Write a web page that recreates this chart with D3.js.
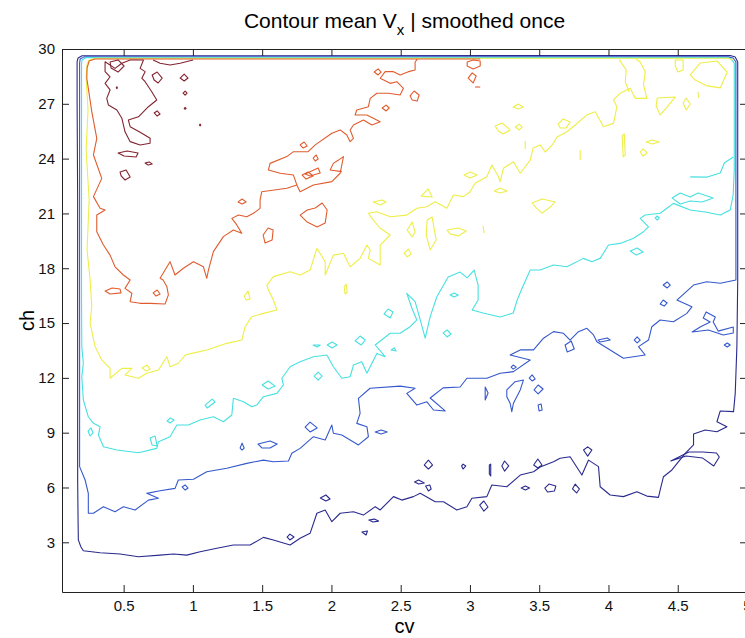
<!DOCTYPE html>
<html>
<head>
<meta charset="utf-8">
<script src="https://cdn.jsdelivr.net/npm/d3@7"></script>
<style>
  body { margin: 0; background: #fff; }
  svg { font-family: "Liberation Sans", Arial, sans-serif; }
  .axis path, .axis line { stroke: #222; }
  .axis text { font-size: 15px; fill: #111; }
</style>
</head>
<body>
<div id="chart"></div>
<script>
// contour levels, low to high (MATLAB jet colours)
const levels = [1, 2, 3, 4, 5, 6];
const xTicks = [0.5, 1, 1.5, 2, 2.5, 3, 3.5, 4, 4.5, 5];
const yTicks = [3, 6, 9, 12, 15, 18, 21, 24, 27, 30];

// ---- level 1 (navy) ----
const navyMain = [[0.2,29.63],[0.171,29.51],[0.164,29.29],[0.164,27.21],[0.168,21.74],[0.168,16.26],[0.168,10.79],[0.168,6.41],[0.171,4.22],[0.173,3.13],[0.191,2.76],[0.209,2.54],[0.33,2.43],[0.474,2.36],[0.607,2.21],[0.763,2.30],[0.859,2.36],[0.956,2.30],[1.052,2.48],[1.173,2.67],[1.292,2.85],[1.413,2.85],[1.509,3.27],[1.581,3.13],[1.702,2.85],[1.774,3.22],[1.846,3.49],[1.895,4.59],[1.955,4.77],[2.003,4.13],[2.063,4.59],[2.159,4.67],[2.231,4.49],[2.316,4.95],[2.352,4.77],[2.448,5.50],[2.508,5.31],[2.592,5.50],[2.641,5.68],[2.749,5.22],[2.809,5.22],[2.905,4.77],[2.978,4.95],[3.014,5.41],[3.122,5.50],[3.158,6.14],[3.266,6.04],[3.363,6.68],[3.459,6.86],[3.507,7.12],[3.603,7.41],[3.651,7.60],[3.723,7.68],[3.808,6.68],[3.856,7.50],[3.928,7.14],[3.940,6.04],[4.012,5.59],[4.108,5.50],[4.205,5.77],[4.277,5.53],[4.361,5.46],[4.373,5.86],[4.397,6.59],[4.458,6.96],[4.554,7.87],[4.614,8.33],[4.614,8.93],[4.698,9.15],[4.783,9.05],[4.855,9.33],[4.783,9.60],[4.807,10.19],[4.903,10.15],[4.915,11.15],[4.927,13.71],[4.933,17.36],[4.933,24.47],[4.933,29.29],[4.915,29.56],[4.879,29.64]];
const navyIslands = [
  [[2.67,7.23],[2.70,7.50],[2.73,7.23],[2.70,7.01]],
  [[2.94,7.18],[2.95,7.28],[2.97,7.18],[2.95,7.01]],
  [[3.14,7.23],[3.15,7.28],[3.15,6.74],[3.15,6.63],[3.14,6.74]],
  [[3.23,7.18],[3.25,7.45],[3.28,7.18],[3.25,6.90]],
  [[3.46,7.23],[3.49,7.56],[3.52,7.23],[3.49,7.07]],
  [[1.92,5.42],[1.96,5.59],[1.99,5.37],[1.96,5.26]],
  [[2.60,6.30],[2.63,6.41],[2.67,6.25],[2.63,6.19]],
  [[2.68,6.08],[2.71,6.14],[2.72,5.92],[2.70,5.81]],
  [[2.27,4.22],[2.31,4.27],[2.34,4.16],[2.30,4.11]],
  [[2.22,3.56],[2.26,3.62],[2.25,3.40]],
  [[3.07,5.04],[3.10,5.26],[3.13,4.93],[3.10,4.71]],
  [[3.37,5.97],[3.40,6.08],[3.43,5.97],[3.40,5.86]],
  [[3.54,5.97],[3.57,6.19],[3.62,6.08],[3.61,5.81],[3.56,5.75]],
  [[3.74,5.92],[3.76,6.19],[3.79,5.92],[3.77,5.70]],
  [[3.82,8.05],[3.85,8.22],[3.88,8.05],[3.85,7.72]],
  [[1.68,3.29],[1.70,3.45],[1.73,3.29],[1.70,3.13]],
  [[4.45,7.45],[4.56,7.72],[4.68,7.61],[4.76,7.18],[4.80,7.67],[4.78,7.89],[4.68,7.94],[4.58,7.94]]
];

// ---- level 2 (blue) ----
const blueMain = [[0.214,29.57],[0.186,29.45],[0.182,29.23],[0.182,21.74],[0.182,13.53],[0.182,7.14],[0.222,6.41],[0.245,5.68],[0.245,4.59],[0.282,4.59],[0.354,4.95],[0.438,4.67],[0.498,4.95],[0.583,4.77],[0.679,5.31],[0.751,5.41],[0.667,5.68],[0.763,5.82],[0.871,5.95],[0.895,6.41],[1.004,6.45],[1.100,6.86],[1.245,7.05],[1.389,7.32],[1.509,7.50],[1.581,7.41],[1.690,7.45],[1.714,7.87],[1.774,8.14],[1.870,8.78],[1.955,8.60],[2.003,9.42],[2.014,8.97],[2.075,8.87],[2.135,8.60],[2.195,8.33],[2.267,8.78],[2.256,9.33],[2.183,9.51],[2.207,10.06],[2.195,10.88],[2.279,11.43],[2.496,11.55],[2.604,11.43],[2.544,11.15],[2.617,10.51],[2.689,10.69],[2.737,10.24],[2.821,10.19],[2.713,10.90],[2.806,11.45],[2.929,11.50],[2.978,11.98],[3.122,11.98],[3.218,12.25],[3.314,12.34],[3.435,12.98],[3.290,13.25],[3.363,13.53],[3.459,13.53],[3.531,14.17],[3.603,14.53],[3.675,14.44],[3.723,14.07],[3.783,14.53],[3.844,14.71],[3.892,14.35],[3.916,13.98],[4.012,13.53],[4.108,13.07],[4.265,13.25],[4.217,13.71],[4.289,14.07],[4.313,14.80],[4.373,15.17],[4.469,15.07],[4.566,15.53],[4.602,15.89],[4.494,16.26],[4.614,17.08],[4.710,17.26],[4.807,17.18],[4.92,17.36],[4.92,21.74],[4.92,29.29],[4.90,29.51],[4.864,29.57]];
const blueIslands = [
  [[3.11,11.17],[3.11,11.50],[3.131,11.17],[3.11,10.79]],
  [[3.266,11.34],[3.326,11.79],[3.386,11.88],[3.363,11.34],[3.314,10.61],[3.302,10.15],[3.29,10.61],[3.266,10.97]],
  [[3.297,12.59],[3.312,12.70],[3.334,12.59],[3.312,12.48]],
  [[3.428,11.99],[3.449,12.16],[3.471,11.94],[3.449,11.83]],
  [[3.463,11.34],[3.492,11.61],[3.528,11.39],[3.492,11.12]],
  [[3.492,10.51],[3.514,10.57],[3.521,10.24],[3.499,10.19]],
  [[1.81,9.31],[1.846,9.58],[1.897,9.26],[1.846,9.04]],
  [[2.316,9.04],[2.359,9.15],[2.403,9.04],[2.359,8.93]],
  [[0.922,6.03],[0.944,6.14],[0.965,5.97],[0.944,5.86]],
  [[1.341,8.16],[1.355,8.43],[1.37,8.16],[1.355,8.05]],
  [[1.47,8.38],[1.557,8.54],[1.608,8.38],[1.557,8.16],[1.5,8.16]],
  [[3.687,13.80],[3.731,14.02],[3.753,13.58],[3.702,13.42]],
  [[3.925,14.07],[3.991,14.18],[4.012,14.07],[3.94,13.96]],
  [[4.186,14.07],[4.207,14.24],[4.229,14.07],[4.207,13.91]],
  [[4.604,14.51],[4.72,14.62],[4.829,14.35],[4.901,14.46],[4.901,14.78],[4.792,14.56],[4.756,15.06],[4.771,15.33],[4.705,15.61],[4.684,15.28],[4.734,15.06],[4.662,14.78]],
  [[4.373,16.04],[4.395,16.26],[4.424,16.10],[4.402,15.93]],
  [[4.836,13.80],[4.857,13.91],[4.879,13.80],[4.857,13.69]],
  [[4.395,17.08],[4.424,17.25],[4.446,17.08],[4.424,16.92]]
];

// ---- level 3 (cyan) ----
const cyanMain = [[0.229,29.53],[0.2,29.40],[0.196,29.18],[0.196,21.74],[0.196,16.26],[0.198,13.71],[0.209,12.80],[0.198,12.06],[0.209,10.79],[0.245,9.87],[0.282,9.51],[0.33,9.33],[0.318,8.87],[0.354,8.23],[0.451,8.05],[0.607,7.90],[0.739,8.14],[0.751,8.51],[0.835,8.78],[0.884,9.42],[0.968,9.42],[1.052,9.69],[1.148,9.87],[1.220,9.60],[1.281,9.97],[1.292,10.88],[1.365,10.69],[1.425,10.42],[1.461,10.51],[1.509,10.97],[1.606,11.15],[1.653,11.61],[1.642,11.98],[1.702,12.61],[1.774,12.88],[1.870,13.16],[1.967,13.25],[2.014,12.61],[2.075,11.98],[2.135,12.06],[2.159,12.70],[2.219,12.88],[2.256,12.25],[2.328,13.34],[2.388,13.16],[2.316,13.80],[2.424,14.44],[2.496,14.44],[2.568,14.80],[2.617,15.17],[2.581,15.81],[2.544,16.63],[2.604,16.17],[2.641,15.17],[2.677,14.17],[2.713,15.35],[2.761,16.44],[2.843,17.52],[2.929,17.79],[2.98,17.47],[3.030,17.90],[3.059,17.08],[3.059,16.26],[3.016,15.71],[3.095,15.55],[3.218,15.33],[3.312,15.55],[3.341,16.26],[3.377,16.92],[3.435,17.90],[3.507,17.90],[3.603,18.18],[3.700,18.08],[3.819,18.54],[3.880,18.36],[3.940,18.54],[4.000,19.27],[4.085,19.36],[4.181,19.64],[4.253,20.00],[4.289,20.27],[4.229,20.73],[4.265,20.91],[4.373,21.01],[4.422,21.28],[4.469,21.55],[4.590,21.19],[4.698,21.08],[4.807,20.91],[4.879,21.19],[4.900,22.01],[4.908,23.38],[4.908,27.21],[4.908,29.23],[4.886,29.45],[4.857,29.53]];
const cyanBranch = [[4.59,23.00],[4.713,22.99],[4.807,23.21],[4.836,23.76],[4.901,24.09]];
const cyanIslands = [
  [[4.46,21.84],[4.518,22.12],[4.59,21.90],[4.647,22.12],[4.756,21.84],[4.676,21.63],[4.59,21.68],[4.518,21.52]],
  [[0.243,9.09],[0.265,9.26],[0.279,8.98],[0.258,8.82]],
  [[0.691,8.71],[0.727,8.82],[0.742,8.27],[0.705,8.33]],
  [[0.814,9.64],[0.835,9.80],[0.864,9.69],[0.835,9.53]],
  [[1.088,10.51],[1.139,10.84],[1.16,10.68],[1.103,10.35]],
  [[1.50,11.61],[1.543,11.83],[1.594,11.55],[1.543,11.39]],
  [[2.38,15.50],[2.409,15.77],[2.445,15.61],[2.424,15.28]],
  [[2.171,14.02],[2.207,14.29],[2.244,14.07],[2.215,13.80]],
  [[1.969,13.80],[2.005,13.96],[2.041,13.80],[2.005,13.64]],
  [[1.868,13.80],[1.919,13.80],[1.897,13.69]],
  [[1.875,12.10],[1.904,12.32],[1.933,12.10],[1.904,11.88]],
  [[2.806,14.46],[2.835,14.62],[2.864,14.40],[2.835,14.24]],
  [[2.857,16.54],[2.886,16.64],[2.915,16.54],[2.886,16.43]],
  [[2.431,13.53],[2.453,13.64],[2.467,13.47]],
  [[4.157,18.94],[4.207,19.11],[4.25,18.89],[4.2,18.72]],
  [[4.337,20.75],[4.352,20.86],[4.366,20.75],[4.352,20.64]]
];

// ---- level 4 (yellow) ----
const yellowMain = [[4.901,29.40],[4.864,29.49],[0.294,29.49],[0.251,29.40],[0.236,29.18],[0.229,28.41],[0.243,26.66],[0.229,24.47],[0.251,21.74],[0.236,19.00],[0.258,17.36],[0.270,15.89],[0.258,14.99],[0.294,13.71],[0.342,12.98],[0.402,12.52],[0.402,11.98],[0.487,12.52],[0.559,12.52],[0.510,12.16],[0.607,11.98],[0.667,12.25],[0.751,12.43],[0.812,13.16],[0.835,12.61],[0.895,12.80],[0.944,13.25],[0.992,13.34],[1.100,13.53],[1.245,13.89],[1.353,14.07],[1.377,14.80],[1.425,15.35],[1.509,15.53],[1.606,15.71],[1.581,16.26],[1.545,16.81],[1.534,17.08],[1.581,17.54],[1.702,17.81],[1.774,17.63],[1.846,17.90],[1.895,19.09],[1.955,18.36],[1.955,17.63],[2.014,18.72],[2.087,18.82],[2.135,18.08],[2.207,18.54],[2.256,19.27],[2.280,19.00],[2.267,18.54],[2.352,18.18],[2.352,19.27],[2.424,19.82],[2.352,20.19],[2.292,20.73],[2.267,21.01],[2.328,21.09],[2.424,20.82],[2.544,20.91],[2.617,21.28],[2.689,21.37],[2.749,21.64],[2.833,21.28],[2.881,22.01],[2.953,21.92],[3.001,22.19],[3.037,22.65],[3.122,23.01],[3.158,23.65],[3.206,23.01],[3.218,22.74],[3.242,23.47],[3.314,23.83],[3.363,23.20],[3.435,23.92],[3.456,24.58],[3.507,24.75],[3.543,24.36],[3.594,24.75],[3.629,25.18],[3.700,25.47],[3.760,25.84],[3.844,26.39],[3.904,26.57],[3.964,25.75],[4.036,25.93],[4.061,26.84],[4.036,27.21],[4.085,27.58],[4.157,27.85],[4.193,27.30],[4.277,27.30],[4.253,28.03],[4.265,28.76],[4.229,29.29],[4.2,29.44]];
const yellowPieces = [
  [[4.078,29.42],[4.128,28.85],[4.121,28.19],[4.15,27.65]],
  [[4.645,27.65],[4.652,27.32]],
  [[3.399,24.96],[3.399,24.53]],
  [[3.796,24.47],[3.796,23.92]],
  [[3.095,20.31],[3.102,19.93]]
];
const yellowIslands = [
  [[4.482,29.40],[4.539,29.40],[4.539,28.85],[4.503,28.74],[4.482,29.07]],
  [[4.59,28.58],[4.662,29.23],[4.785,29.34],[4.857,28.74],[4.807,27.87],[4.713,27.98],[4.626,28.30]],
  [[4.352,27.32],[4.482,27.37],[4.424,26.83],[4.373,26.39],[4.344,26.88]],
  [[4.539,27.04],[4.561,27.32],[4.59,26.99],[4.561,26.66]],
  [[3.637,25.89],[3.673,26.17],[3.723,26.00],[3.695,25.68],[3.651,25.68]],
  [[4.099,25.24],[4.114,25.35],[4.121,24.20],[4.106,24.09]],
  [[4.272,24.91],[4.316,25.02],[4.366,24.91],[4.316,24.80]],
  [[4.229,24.36],[4.25,24.53],[4.279,24.31],[4.25,24.14]],
  [[3.449,21.57],[3.521,21.79],[3.615,21.63],[3.579,21.35],[3.521,21.02],[3.478,21.30]],
  [[3.312,26.83],[3.348,26.99],[3.384,26.83],[3.348,26.72]],
  [[3.182,25.79],[3.232,25.95],[3.29,25.57],[3.24,25.35],[3.204,25.51]],
  [[3.327,25.73],[3.356,25.89],[3.377,25.73],[3.356,25.57]],
  [[2.958,23.10],[3.001,23.27],[3.052,23.10],[3.001,22.94]],
  [[3.175,22.23],[3.218,22.39],[3.269,22.23],[3.218,22.12]],
  [[2.648,21.95],[2.698,22.34],[2.727,21.90]],
  [[2.301,21.63],[2.366,21.74],[2.395,21.63],[2.352,21.46]],
  [[2.547,20.09],[2.583,20.53],[2.604,19.98],[2.583,19.71]],
  [[2.691,20.64],[2.727,20.80],[2.756,19.55],[2.713,19.00],[2.684,19.82]],
  [[2.835,20.09],[2.915,20.20],[2.973,20.04],[2.915,19.77],[2.857,19.88]],
  [[2.525,18.83],[2.554,19.05],[2.575,18.78],[2.547,18.62]],
  [[2.092,16.97],[2.106,17.14],[2.114,16.70],[2.099,16.59]],
  [[1.37,16.48],[1.398,16.75],[1.413,16.32],[1.384,16.26]],
  [[0.633,12.54],[0.669,12.70],[0.691,12.48],[0.662,12.38]]
];

// ---- level 5 (orange) ----
const orangeMain = [[3.074,29.45],[0.294,29.45],[0.251,29.34],[0.236,28.96],[0.234,28.40],[0.270,26.57],[0.306,25.11],[0.282,24.20],[0.342,22.92],[0.282,21.92],[0.330,21.28],[0.366,21.19],[0.306,20.91],[0.306,20.00],[0.354,19.27],[0.402,18.72],[0.438,18.08],[0.498,17.63],[0.547,17.36],[0.510,16.90],[0.559,16.63],[0.547,16.17],[0.619,16.08],[0.691,16.08],[0.799,16.04],[0.823,16.54],[0.812,16.99],[0.785,17.36],[0.763,17.45],[0.835,18.36],[0.871,17.63],[0.931,18.00],[1.004,18.36],[1.076,18.08],[1.100,17.45],[1.112,17.90],[1.148,18.91],[1.220,19.73],[1.292,20.09],[1.353,19.91],[1.317,20.37],[1.281,20.73],[1.329,20.91],[1.389,20.82],[1.437,21.01],[1.485,21.28],[1.485,21.74],[1.497,22.19],[1.678,22.38],[1.750,22.56],[1.726,23.10],[1.630,23.20],[1.545,23.38],[1.557,23.74],[1.678,24.11],[1.726,24.38],[1.832,24.38],[1.883,24.75],[2.003,25.39],[2.063,25.57],[2.111,25.29],[2.135,24.93],[2.159,25.11],[2.135,25.57],[2.159,25.84],[2.231,26.11],[2.292,25.84],[2.352,26.02],[2.256,26.39],[2.171,26.39],[2.183,26.66],[2.267,26.84],[2.280,27.30],[2.328,27.58],[2.412,27.58],[2.496,27.48],[2.520,27.85],[2.472,28.21],[2.424,28.12],[2.352,28.40],[2.388,28.76],[2.448,28.76],[2.496,28.58],[2.556,28.76],[2.604,28.85],[2.604,29.29],[2.619,29.43]];
const orangePieces = [
  [[1.75,22.56],[1.774,22.19],[1.870,22.56],[2.003,22.74],[2.063,23.20],[2.087,24.11],[2.051,23.92],[2.014,23.74],[1.991,23.38],[2.075,23.29]],
  [[3.037,27.92],[3.074,27.92]]
];
const orangeIslands = [
  [[1.326,21.63],[1.355,21.79],[1.384,21.63],[1.355,21.52]],
  [[1.507,19.82],[1.543,20.20],[1.579,20.09],[1.572,19.55],[1.521,19.38]],
  [[0.713,16.65],[0.742,16.81],[0.763,16.59],[0.734,16.48]],
  [[0.366,16.75],[0.417,16.92],[0.474,16.86],[0.481,16.65],[0.402,16.59]],
  [[1.774,24.75],[1.803,24.91],[1.825,24.69],[1.796,24.58]],
  [[1.789,23.10],[1.832,23.27],[1.868,23.05],[1.817,22.88]],
  [[2.309,28.74],[2.337,28.91],[2.359,28.74],[2.337,28.58]],
  [[2.568,27.43],[2.597,27.70],[2.633,27.48],[2.619,27.15],[2.583,27.21]],
  [[2.366,26.77],[2.395,26.93],[2.417,26.77],[2.395,26.61]],
  [[1.868,24.03],[1.890,24.20],[1.904,23.98],[1.883,23.87]],
  [[1.81,23.16],[1.904,23.49],[1.919,23.21],[1.846,23.05]],
  [[2.98,29.29],[3.023,29.40],[3.074,29.34],[3.074,29.07],[3.023,28.91],[2.98,29.07]],
  [[2.987,28.41],[3.016,28.69],[3.045,28.52],[3.023,28.14]],
  [[1.774,20.91],[1.825,21.19],[1.883,21.30],[1.933,21.57],[1.969,21.19],[1.955,20.48],[1.897,20.26],[1.825,20.53]]
];

// ---- level 6 (dark red) ----
const darkRedTop = [[0.713,29.40],[0.763,29.22],[0.835,29.12],[0.908,29.22],[1.001,29.40]];
const darkRedIslands = [
  [[0.366,29.30],[0.438,28.94],[0.487,29.22],[0.547,29.40],[0.643,29.40],[0.619,28.94],[0.655,28.76],[0.631,28.40],[0.655,28.21],[0.703,27.66],[0.739,27.21],[0.679,26.84],[0.607,26.29],[0.534,26.11],[0.547,25.75],[0.619,25.44],[0.691,25.11],[0.691,24.84],[0.619,24.75],[0.547,24.93],[0.510,25.47],[0.487,26.21],[0.451,26.66],[0.390,26.93],[0.378,27.30],[0.402,27.76],[0.366,28.12],[0.402,28.48],[0.366,28.76]],
  [[0.402,29.29],[0.46,29.40],[0.503,29.07],[0.46,28.74],[0.409,28.96]],
  [[0.706,28.58],[0.742,28.74],[0.778,28.41],[0.749,28.14],[0.72,28.30]],
  [[0.908,28.41],[0.937,28.63],[0.965,28.41],[0.937,28.25]],
  [[0.46,24.31],[0.525,24.42],[0.604,24.31],[0.59,24.09],[0.503,24.14]],
  [[0.474,23.27],[0.518,23.38],[0.547,22.99],[0.51,22.83],[0.482,23.05]],
  [[0.72,26.50],[0.742,26.61],[0.763,26.44],[0.742,26.33]],
  [[0.655,23.76],[0.684,23.82],[0.706,23.71],[0.677,23.65]],
  [[0.929,27.59],[0.944,27.70],[0.958,27.59],[0.944,27.48]],
  [[0.937,26.75],[0.944,26.80],[0.951,26.75],[0.944,26.70]],
  [[1.047,25.84],[1.052,25.89],[1.057,25.84],[1.052,25.79]],
  [[0.447,27.88],[0.451,27.93],[0.455,27.88],[0.451,27.83]]
];

const contourSets = [
  { level: 1, loops: [navyMain].concat(navyIslands), lines: [] },
  { level: 2, loops: [blueMain].concat(blueIslands), lines: [] },
  { level: 3, loops: [cyanMain].concat(cyanIslands), lines: [cyanBranch] },
  { level: 4, loops: yellowIslands, lines: [yellowMain].concat(yellowPieces) },
  { level: 5, loops: orangeIslands, lines: [orangeMain].concat(orangePieces) },
  { level: 6, loops: darkRedIslands, lines: [darkRedTop] }
];

////////////////
// DIMENSIONS //
////////////////
const svgWidth = 745, svgHeight = 638;
// the axes box runs a little past the right edge of the picture, as in the original
const margin = { top: 49, right: -2, bottom: 46, left: 62 };
const width = svgWidth - margin.left - margin.right;
const height = svgHeight - margin.top - margin.bottom;

const svg = d3.select("#chart").append("svg")
  .attr("width", svgWidth)
  .attr("height", svgHeight);

const g = svg.append("g")
  .attr("transform", "translate(" + margin.left + "," + margin.top + ")");

const x = d3.scaleLinear().domain([0.055, 5]).range([0, width]);
const y = d3.scaleLinear().domain([0.28, 30]).range([height, 0]);

const color = d3.scaleOrdinal()
  .domain(levels)
  .range(["#2a2a8e", "#3558cc", "#48e0e0", "#eeee48", "#e05c2e", "#822430"]);

g.append("clipPath").attr("id", "clip")
  .append("rect").attr("width", width).attr("height", height);

const lineOpen = d3.line().x(d => x(d[0])).y(d => y(d[1]));
const lineClosed = d3.line().x(d => x(d[0])).y(d => y(d[1])).curve(d3.curveLinearClosed);

const plot = g.append("g").attr("clip-path", "url(#clip)");

contourSets.forEach(function (set) {
  const lg = plot.append("g").attr("class", "level-" + set.level)
    .attr("fill", "none")
    .attr("stroke", color(set.level))
    .attr("stroke-width", 1.1)
    .attr("stroke-linejoin", "round");
  lg.selectAll(".loop").data(set.loops).enter().append("path")
    .attr("class", "loop").attr("d", lineClosed);
  lg.selectAll(".open").data(set.lines).enter().append("path")
    .attr("class", "open").attr("d", lineOpen);
});

//////////
// AXES //
//////////
const fmt = d3.format("~g");

g.append("g").attr("class", "axis")
  .attr("transform", "translate(0," + height + ")")
  .call(d3.axisBottom(x).tickValues(xTicks).tickFormat(fmt).tickSizeInner(-7).tickSizeOuter(0).tickPadding(8));

g.append("g").attr("class", "axis")
  .call(d3.axisTop(x).tickValues(xTicks).tickSizeInner(-7).tickSizeOuter(0).tickFormat(""));

g.append("g").attr("class", "axis")
  .call(d3.axisLeft(y).tickValues(yTicks).tickFormat(fmt).tickSizeInner(-7).tickSizeOuter(0).tickPadding(7));

g.append("g").attr("class", "axis")
  .attr("transform", "translate(" + width + ",0)")
  .call(d3.axisRight(y).tickValues(yTicks).tickSizeInner(-7).tickSizeOuter(0).tickFormat(""));

// labels
svg.append("text")
  .attr("x", margin.left + width / 2)
  .attr("y", 633)
  .attr("text-anchor", "middle")
  .style("font-size", "20px")
  .text("cv");

svg.append("text")
  .attr("transform", "translate(34," + (margin.top + height / 2) + ") rotate(-90)")
  .attr("text-anchor", "middle")
  .style("font-size", "20px")
  .text("ch");

const title = svg.append("text")
  .attr("x", margin.left + width / 2)
  .attr("y", 28)
  .attr("text-anchor", "middle")
  .style("font-size", "21px");
title.append("tspan").text("Contour mean V");
title.append("tspan").attr("dy", 7).style("font-size", "15px").text("x");
title.append("tspan").attr("dy", -7).text(" | smoothed once");
</script>
</body>
</html>
